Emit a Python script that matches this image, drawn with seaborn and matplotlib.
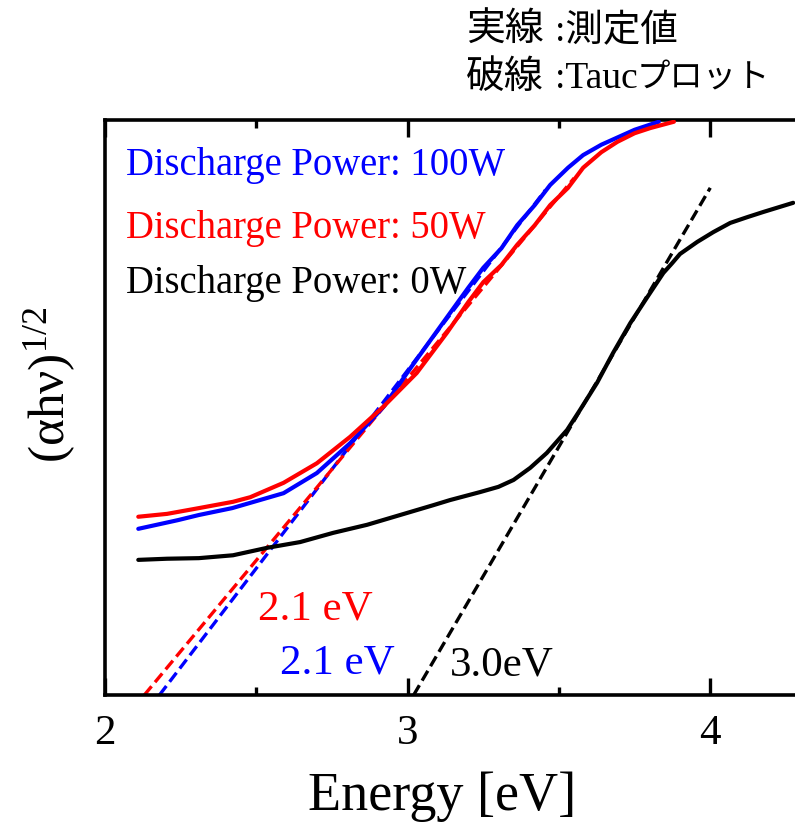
import numpy as np
import pandas as pd
import matplotlib
matplotlib.use("Agg")
import matplotlib.pyplot as plt
import seaborn as sns

# ---- data ----
energy_0w = [2.11, 2.205, 2.31, 2.423, 2.536, 2.645, 2.754, 2.866, 2.975, 3.084, 3.14,
             3.24, 3.30, 3.35, 3.405, 3.46, 3.527, 3.57, 3.626, 3.679, 3.736, 3.792,
             3.845, 3.874, 3.90, 3.957, 4.01, 4.066, 4.122, 4.175, 4.274]
value_0w = [2.35, 2.37, 2.38, 2.43, 2.56, 2.66, 2.82, 2.96, 3.13, 3.30, 3.39,
            3.53, 3.62, 3.74, 3.95, 4.21, 4.61, 4.96, 5.43, 5.95, 6.47, 6.92,
            7.34, 7.51, 7.67, 7.88, 8.05, 8.21, 8.31, 8.40, 8.56]

energy_50w = [2.11, 2.205, 2.31, 2.423, 2.48, 2.59, 2.70, 2.81, 2.919, 3.03, 3.13,
              3.20, 3.25, 3.31, 3.362, 3.42, 3.471, 3.53, 3.58, 3.64, 3.693, 3.75,
              3.802, 3.88]
value_50w = [3.10, 3.15, 3.25, 3.36, 3.44, 3.69, 4.03, 4.49, 5.01, 5.60, 6.30,
             6.83, 7.18, 7.48, 7.83, 8.17, 8.52, 8.82, 9.17, 9.44, 9.62, 9.77,
             9.86, 9.97]

energy_100w = [2.11, 2.24, 2.31, 2.42, 2.59, 2.70, 2.81, 2.92, 3.01, 3.10, 3.20,
               3.25, 3.31, 3.362, 3.42, 3.471, 3.53, 3.58, 3.64, 3.75, 3.83]
value_100w = [2.89, 3.04, 3.13, 3.25, 3.51, 3.86, 4.38, 5.01, 5.69, 6.35, 7.08,
              7.43, 7.77, 8.17, 8.52, 8.87, 9.17, 9.39, 9.57, 9.83, 9.97]

# Tauc fit lines (end points)
tauc_0w_x = [3.02, 4.00]
tauc_0w_y = [0.0, 8.82]
tauc_50w_x = [2.13, 3.55]
tauc_50w_y = [0.0, 8.99]
tauc_100w_x = [2.18, 3.455]
tauc_100w_y = [0.0, 8.78]

series_labels = ["Discharge Power: 100W", "Discharge Power: 50W", "Discharge Power: 0W"]
series_colors = ["#0000ff", "#ff0000", "#000000"]
gap_labels = ["2.1 eV", "2.1 eV", "3.0eV"]
xticks = [2, 3, 4]
xminor = [2.5, 3.5]

# ---- style ----
sns.set_style("ticks")
plt.rcParams["font.family"] = ["Liberation Serif", "Noto Sans CJK JP"]
plt.rcParams["mathtext.fontset"] = "custom"
plt.rcParams["mathtext.rm"] = "Liberation Serif"
plt.rcParams["mathtext.it"] = "Liberation Serif:italic"
plt.rcParams["axes.edgecolor"] = "black"
plt.rcParams["xtick.color"] = "black"
plt.rcParams["text.color"] = "black"
plt.rcParams["axes.labelcolor"] = "black"

fig = plt.figure(figsize=(7.95, 8.25), dpi=100)
ax = fig.add_axes([105 / 795, 130 / 825, 690 / 795, 575 / 825])

solid = [(energy_100w, value_100w), (energy_50w, value_50w), (energy_0w, value_0w)]
dashed = [(tauc_100w_x, tauc_100w_y), (tauc_50w_x, tauc_50w_y), (tauc_0w_x, tauc_0w_y)]

for (xs, ys), c in zip(dashed, series_colors):
    df = pd.DataFrame({"E": xs, "v": ys})
    sns.lineplot(data=df, x="E", y="v", ax=ax, color=c, lw=2.4,
                 linestyle=(0, (3.4, 1.6)), sort=False, zorder=2)
for (xs, ys), c in zip(solid, series_colors):
    df = pd.DataFrame({"E": xs, "v": ys})
    sns.lineplot(data=df, x="E", y="v", ax=ax, color=c, lw=3.0, sort=False, zorder=3)

ax.set_xlim(2.0, 4.28)
ax.set_ylim(0, 10)
ax.set_xticks(xticks)
ax.set_xticks(xminor, minor=True)
ax.set_xticklabels([str(t) for t in xticks], fontsize=31)
ax.set_yticks([])
ax.tick_params(axis="x", which="major", direction="in", length=12, width=2.4,
               top=True, bottom=True, pad=14, colors="black")
ax.tick_params(axis="x", which="minor", direction="in", length=6, width=2.4,
               top=True, bottom=True, colors="black")
for s in ["left", "bottom", "top"]:
    ax.spines[s].set_linewidth(2.6)
    ax.spines[s].set_color("black")
ax.spines["right"].set_visible(False)

ax.set_xlabel("Energy [eV]", fontsize=39)
ax.xaxis.set_label_coords((442 - 105) / 690, -(810 - 695) / 575, transform=ax.transAxes)
ax.xaxis.label.set_va("baseline")
ax.set_ylabel("")
fig.text(50 / 795, 1 - 385 / 825, "(αhν)$^{1/2}$", fontsize=37, rotation=90,
         ha="center", va="center")

# series labels
label_y = [175, 238, 293]
for txt, c, py in zip(series_labels, series_colors, label_y):
    fig.text(126 / 795, 1 - py / 825, txt, color=c, fontsize=27.8,
             ha="left", va="baseline")

# band gap labels
gap_pos = [(280, 673), (258, 620), (450, 675)]
gap_colors = ["#0000ff", "#ff0000", "#000000"]
for txt, c, (px, py) in zip(gap_labels, gap_colors, gap_pos):
    fig.text(px / 795, 1 - py / 825, txt, color=c, fontsize=31,
             ha="left", va="baseline")

# legend note (Japanese): 実線:測定値 / 破線:Taucプロット
note_parts = [
    ("実線", 466, 41, 28), (":測定値", 555, 41, 27),
    ("破線", 466, 88, 28), (":Tauc", 555, 88, 27), ("プロット", 637, 88, 24),
]
for txt, px, py, fs in note_parts:
    fig.text(px / 795, 1 - py / 825, txt, fontsize=fs, ha="left", va="baseline")

fig.savefig("out.png", dpi=100)
